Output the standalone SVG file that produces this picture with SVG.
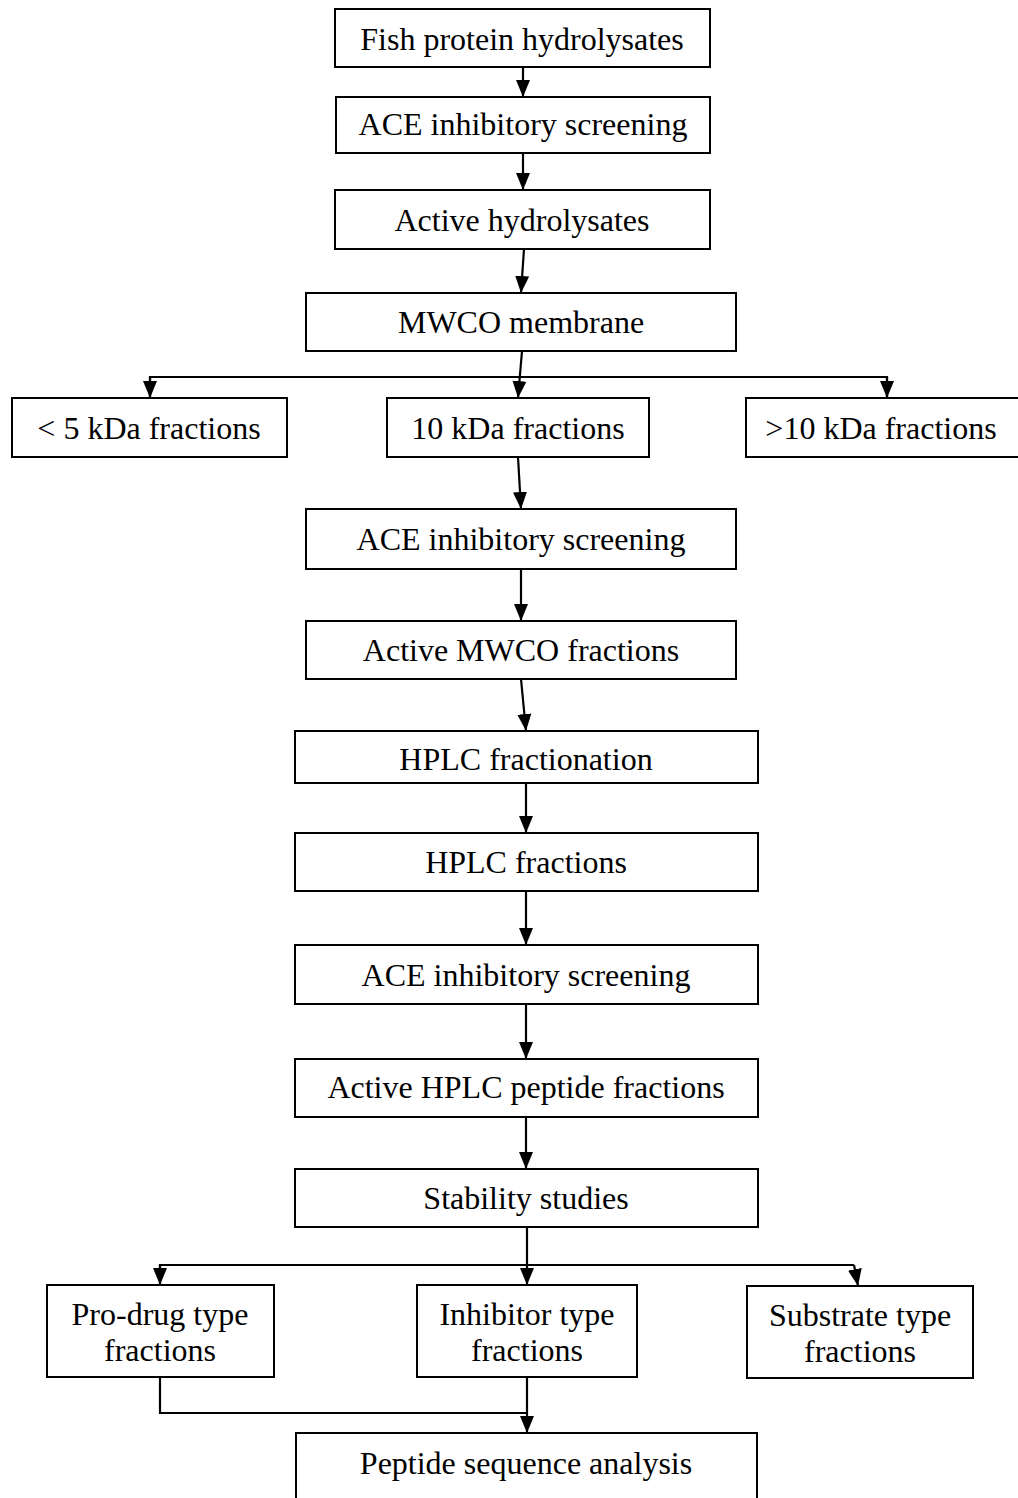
<svg xmlns="http://www.w3.org/2000/svg" width="1018" height="1498" viewBox="0 0 1018 1498">
<style>
.box{fill:#fff;stroke:#000;stroke-width:2}
.t{font-family:"Liberation Serif","Times New Roman",serif;font-size:32px;fill:#000;text-anchor:middle}
.c{fill:none;stroke:#000;stroke-width:2.2}
</style>
<defs>
<marker id="ah" markerUnits="userSpaceOnUse" markerWidth="18" markerHeight="16" refX="17" refY="8" orient="auto">
<path d="M0,1 L17,8 L0,15 z" fill="#000"/>
</marker>
</defs>
<rect width="1018" height="1498" fill="#fff"/>
<g id="connectors">
<line class="c" x1="523" y1="67" x2="523" y2="97" marker-end="url(#ah)"/>
<line class="c" x1="523" y1="153" x2="523" y2="190" marker-end="url(#ah)"/>
<line class="c" x1="524" y1="249" x2="521" y2="293" marker-end="url(#ah)"/>
<line class="c" x1="522" y1="351" x2="518" y2="398" marker-end="url(#ah)"/>
<polyline class="c" points="150,398 150,377 887,377 887,398"/>
<line class="c" x1="150" y1="377" x2="150" y2="398" marker-end="url(#ah)"/>
<line class="c" x1="887" y1="377" x2="887" y2="398" marker-end="url(#ah)"/>
<line class="c" x1="518" y1="457" x2="521" y2="509" marker-end="url(#ah)"/>
<line class="c" x1="521" y1="569" x2="521" y2="621" marker-end="url(#ah)"/>
<line class="c" x1="521" y1="679" x2="526" y2="731" marker-end="url(#ah)"/>
<line class="c" x1="526" y1="783" x2="526" y2="833" marker-end="url(#ah)"/>
<line class="c" x1="526" y1="891" x2="526" y2="945" marker-end="url(#ah)"/>
<line class="c" x1="526" y1="1004" x2="526" y2="1059" marker-end="url(#ah)"/>
<line class="c" x1="526" y1="1117" x2="526" y2="1169" marker-end="url(#ah)"/>
<line class="c" x1="527" y1="1227" x2="527" y2="1285" marker-end="url(#ah)"/>
<polyline class="c" points="160,1285 160,1265 854,1265"/>
<line class="c" x1="160" y1="1265" x2="160" y2="1285" marker-end="url(#ah)"/>
<line class="c" x1="854" y1="1265" x2="858" y2="1286" marker-end="url(#ah)"/>
<polyline class="c" points="160,1377 160,1413 527,1413"/>
<line class="c" x1="527" y1="1377" x2="527" y2="1433" marker-end="url(#ah)"/>
</g>
<g id="n1"><rect class="box" x="335" y="9" width="375" height="58"/><text class="t" x="522" y="50">Fish protein hydrolysates</text></g>
<g id="n2"><rect class="box" x="336" y="97" width="374" height="56"/><text class="t" x="523" y="135">ACE inhibitory screening</text></g>
<g id="n3"><rect class="box" x="335" y="190" width="375" height="59"/><text class="t" x="522" y="231">Active hydrolysates</text></g>
<g id="n4"><rect class="box" x="306" y="293" width="430" height="58"/><text class="t" x="521" y="333">MWCO membrane</text></g>
<g id="n5"><rect class="box" x="12" y="398" width="275" height="59"/><text class="t" x="149" y="439">&lt; 5 kDa fractions</text></g>
<g id="n6"><rect class="box" x="387" y="398" width="262" height="59"/><text class="t" x="518" y="439">10 kDa fractions</text></g>
<g id="n7"><rect class="box" x="746" y="398" width="280" height="59"/><text class="t" x="881" y="439">&gt;10 kDa fractions</text></g>
<g id="n8"><rect class="box" x="306" y="509" width="430" height="60"/><text class="t" x="521" y="550">ACE inhibitory screening</text></g>
<g id="n9"><rect class="box" x="306" y="621" width="430" height="58"/><text class="t" x="521" y="661">Active MWCO fractions</text></g>
<g id="n10"><rect class="box" x="295" y="731" width="463" height="52"/><text class="t" x="526" y="770">HPLC fractionation</text></g>
<g id="n11"><rect class="box" x="295" y="833" width="463" height="58"/><text class="t" x="526" y="873">HPLC fractions</text></g>
<g id="n12"><rect class="box" x="295" y="945" width="463" height="59"/><text class="t" x="526" y="986">ACE inhibitory screening</text></g>
<g id="n13"><rect class="box" x="295" y="1059" width="463" height="58"/><text class="t" x="526" y="1098">Active HPLC peptide fractions</text></g>
<g id="n14"><rect class="box" x="295" y="1169" width="463" height="58"/><text class="t" x="526" y="1209">Stability studies</text></g>
<g id="n15"><rect class="box" x="47" y="1285" width="227" height="92"/><text class="t" x="160" y="1325">Pro-drug type</text><text class="t" x="160" y="1361">fractions</text></g>
<g id="n16"><rect class="box" x="417" y="1285" width="220" height="92"/><text class="t" x="527" y="1325">Inhibitor type</text><text class="t" x="527" y="1361">fractions</text></g>
<g id="n17"><rect class="box" x="747" y="1286" width="226" height="92"/><text class="t" x="860" y="1326">Substrate type</text><text class="t" x="860" y="1362">fractions</text></g>
<g id="n18"><rect class="box" x="296" y="1433" width="461" height="80"/><text class="t" x="526" y="1474">Peptide sequence analysis</text></g>
</svg>
